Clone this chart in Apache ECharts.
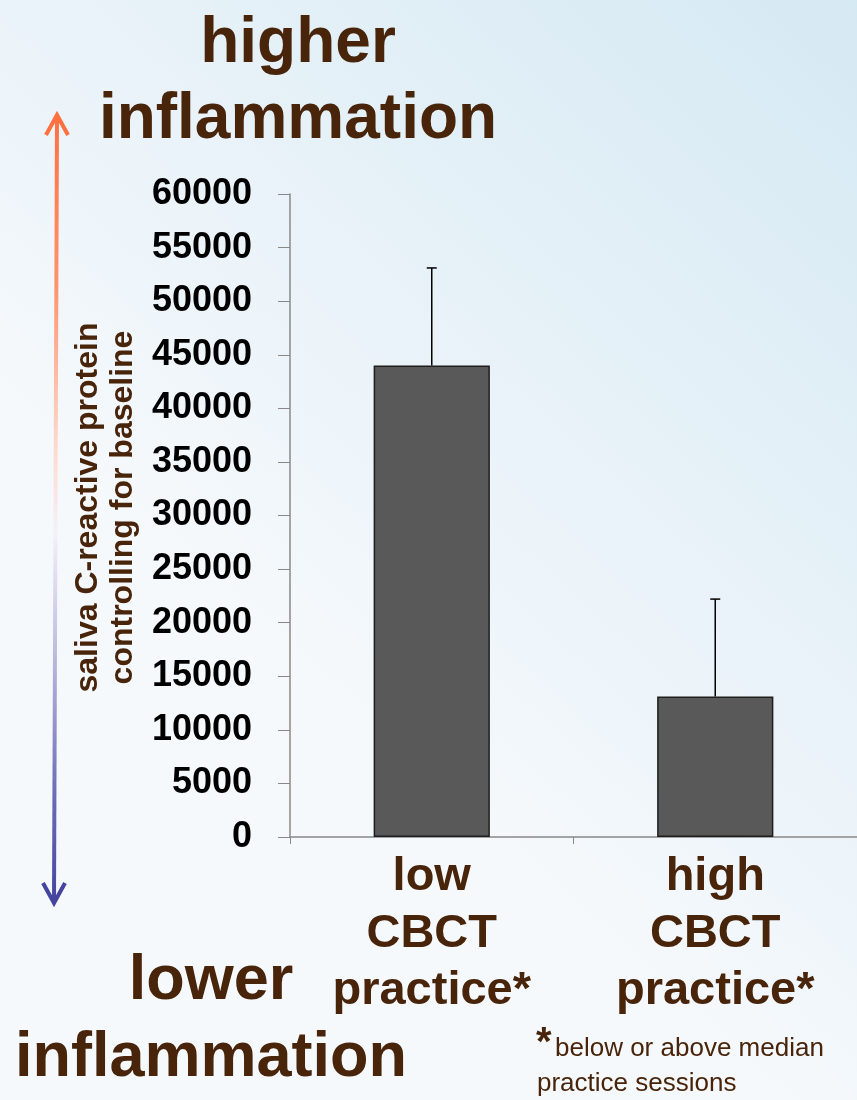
<!DOCTYPE html>
<html>
<head>
<meta charset="utf-8">
<script src="https://cdn.jsdelivr.net/npm/echarts@6/dist/echarts.min.js"></script>
<style>
html,body{margin:0;padding:0;}
#chart{width:857px;height:1100px;}
</style>
</head>
<body>
<div id="chart"></div>
<script>
// ---- data ----
const categories = ['low\nCBCT\npractice*', 'high\nCBCT\npractice*'];
const meanValues = [44000, 13100];
const errorTops = [53100, 22200];
const yTicks = { min: 0, max: 60000, interval: 5000 };
const yAxisTitle = 'saliva C-reactive protein\ncontrolling for baseline';
const topTitle = 'higher\ninflammation';
const bottomTitle = 'lower\ninflammation';
const footnoteLine1 = 'below or above median';
const footnoteLine2 = 'practice sessions';

const BROWN = '#48240a';
const FONT = '"Liberation Sans", Arial, sans-serif';

const chart = echarts.init(document.getElementById('chart'), null, { renderer: 'canvas' });

const arrowGradient = new echarts.graphic.LinearGradient(0, 0, 0, 1, [
  { offset: 0, color: '#ff7040' },
  { offset: 0.22, color: '#ff946e' },
  { offset: 0.42, color: '#ffd9cd' },
  { offset: 0.53, color: '#f3f1f8' },
  { offset: 0.68, color: '#bdbde0' },
  { offset: 0.86, color: '#6d6cb9' },
  { offset: 1, color: '#45449e' }
]);

const option = {
  backgroundColor: new echarts.graphic.LinearGradient(1, 0, 0.3, 0.6, [
    { offset: 0, color: '#d5e9f3' },
    { offset: 1, color: '#f6f9fc' }
  ]),
  animation: false,
  grid: { left: 290, top: 194, width: 572, bottom: 263, containLabel: false },
  xAxis: {
    type: 'category',
    data: categories,
    axisLine: { show: true, lineStyle: { color: '#888888', width: 1.5 } },
    axisTick: { show: true, length: 7, lineStyle: { color: '#888888' } },
    axisLabel: {
      margin: 12,
      color: BROWN,
      fontFamily: FONT,
      fontWeight: 'bold',
      fontSize: 47,
      lineHeight: 57,
      interval: 0
    },
    splitLine: { show: false }
  },
  yAxis: {
    type: 'value',
    min: yTicks.min,
    max: yTicks.max,
    interval: yTicks.interval,
    name: yAxisTitle,
    nameLocation: 'middle',
    nameRotate: 90,
    nameGap: 138,
    nameTextStyle: {
      color: BROWN,
      fontFamily: FONT,
      fontWeight: 'bold',
      fontSize: 32,
      lineHeight: 35,
      align: 'center',
      padding: [0, 0, 0, 16]
    },
    axisLine: { show: true, lineStyle: { color: '#888888', width: 1.5 } },
    axisTick: { show: true, length: 12, lineStyle: { color: '#888888' } },
    axisLabel: {
      margin: 38,
      color: '#000000',
      fontFamily: FONT,
      fontWeight: 'bold',
      fontSize: 36,
      formatter: function (v) { return String(v); }
    },
    splitLine: { show: false }
  },
  series: [
    {
      type: 'bar',
      data: meanValues,
      barWidth: '41%',
      itemStyle: { color: '#595959', borderColor: '#1e1e1e', borderWidth: 1.5 },
      z: 2
    },
    {
      type: 'custom',
      z: 3,
      data: categories.map((c, i) => [i, meanValues[i], errorTops[i]]),
      renderItem: function (params, api) {
        const base = api.coord([api.value(0), api.value(1)]);
        const top = api.coord([api.value(0), api.value(2)]);
        const cap = 5;
        return {
          type: 'group',
          children: [
            { type: 'line', shape: { x1: base[0], y1: base[1], x2: top[0], y2: top[1] },
              style: { stroke: '#000', lineWidth: 1.5 } },
            { type: 'line', shape: { x1: top[0] - cap, y1: top[1], x2: top[0] + cap, y2: top[1] },
              style: { stroke: '#000', lineWidth: 1.5 } }
          ]
        };
      }
    }
  ],
  graphic: [
    // gradient arrow
    { type: 'line', z: 1, shape: { x1: 57, y1: 116, x2: 54, y2: 901 },
      style: { stroke: arrowGradient, lineWidth: 4 } },
    { type: 'polyline', z: 1, shape: { points: [[46, 135], [57, 115], [68, 135]] },
      style: { stroke: '#ff7040', lineWidth: 4, fill: null, lineJoin: 'miter' } },
    { type: 'polyline', z: 1, shape: { points: [[43, 883], [54, 903], [65, 883]] },
      style: { stroke: '#45449e', lineWidth: 4, fill: null, lineJoin: 'miter' } },
    // titles
    { type: 'text', x: 298, y: 6, z: 5,
      style: { text: topTitle, fill: BROWN, font: 'bold 64px ' + FONT, align: 'center', verticalAlign: 'top', lineHeight: 76 } },
    { type: 'text', x: 211, y: 943, z: 5,
      style: { text: bottomTitle, fill: BROWN, font: 'bold 63px ' + FONT, align: 'center', verticalAlign: 'top', lineHeight: 77 } },
    // footnote
    { type: 'text', x: 536, y: 1044, z: 5,
      style: { text: '*', fill: BROWN, font: 'bold 40px ' + FONT, align: 'left', verticalAlign: 'middle' } },
    { type: 'text', x: 555, y: 1049, z: 5,
      style: { text: footnoteLine1, fill: BROWN, font: '26px ' + FONT, align: 'left', verticalAlign: 'middle' } },
    { type: 'text', x: 537, y: 1084, z: 5,
      style: { text: footnoteLine2, fill: BROWN, font: '26px ' + FONT, align: 'left', verticalAlign: 'middle' } }
  ]
};

chart.setOption(option);
</script>
</body>
</html>
